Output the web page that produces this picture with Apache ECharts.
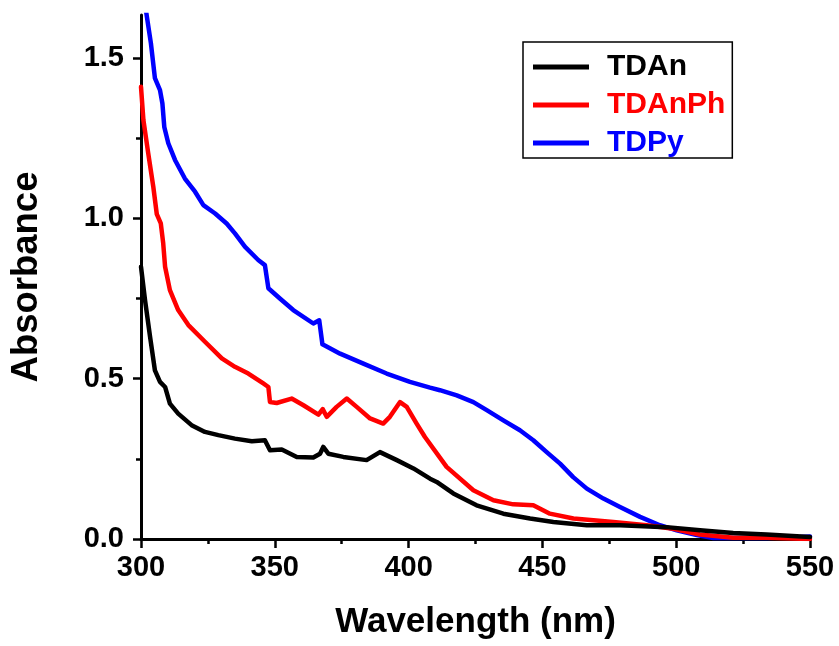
<!DOCTYPE html>
<html>
<head>
<meta charset="utf-8">
<script src="https://cdn.jsdelivr.net/npm/echarts@6/dist/echarts.min.js"></script>
<style>
  html, body { margin: 0; padding: 0; background: #fff; }
  #chart { width: 839px; height: 646px; }
</style>
</head>
<body>
<div id="chart"></div>
<script>
// ---- data ----
const seriesNames = ['TDAn', 'TDAnPh', 'TDPy'];

const tdanWl = [300.0, 301.5, 303.4, 305.2, 307.1, 309.0, 310.8, 313.9, 318.9, 323.9, 328.9, 335.1, 341.4, 346.3, 348.2, 352.6, 358.2, 364.4, 366.9, 368.1, 370.0, 375.6, 384.3, 389.3, 395.6, 401.8, 408.0, 410.5, 416.7, 425.4, 435.4, 445.4, 454.1, 466.6, 479.0, 496.4, 508.9, 521.3, 533.8, 550.0];
const tdanAbs = [0.849, 0.745, 0.630, 0.526, 0.490, 0.474, 0.422, 0.391, 0.355, 0.334, 0.324, 0.313, 0.305, 0.308, 0.277, 0.279, 0.256, 0.254, 0.266, 0.287, 0.266, 0.256, 0.246, 0.271, 0.246, 0.220, 0.188, 0.178, 0.142, 0.105, 0.079, 0.064, 0.053, 0.043, 0.043, 0.037, 0.027, 0.019, 0.014, 0.006];

const tdanphWl = [300.0, 300.9, 302.7, 304.6, 305.9, 307.4, 308.3, 309.0, 310.8, 313.9, 317.7, 323.9, 330.2, 335.1, 340.1, 345.7, 347.6, 348.2, 350.7, 356.3, 360.7, 366.3, 367.9, 369.4, 373.1, 376.9, 380.6, 385.6, 390.5, 393.0, 396.8, 399.3, 403.0, 406.1, 414.2, 424.2, 431.7, 439.1, 446.6, 452.8, 461.6, 476.5, 489.0, 498.9, 508.9, 521.3, 533.8, 550.0];
const tdanphAbs = [1.410, 1.306, 1.203, 1.098, 1.013, 0.984, 0.922, 0.849, 0.776, 0.714, 0.667, 0.615, 0.563, 0.537, 0.516, 0.485, 0.474, 0.427, 0.424, 0.438, 0.417, 0.388, 0.405, 0.381, 0.412, 0.438, 0.412, 0.376, 0.360, 0.381, 0.427, 0.412, 0.360, 0.318, 0.225, 0.152, 0.121, 0.108, 0.105, 0.079, 0.064, 0.053, 0.043, 0.032, 0.014, 0.004, 0.004, 0.000];

const tdpyWl = [300.0, 302.1, 303.7, 305.2, 307.1, 308.0, 308.7, 310.2, 312.7, 316.4, 320.2, 323.3, 327.7, 332.0, 335.1, 338.9, 343.8, 346.3, 347.6, 351.9, 356.9, 364.4, 366.6, 367.8, 374.4, 383.1, 391.8, 400.5, 408.0, 411.7, 418.0, 424.2, 429.2, 435.4, 441.6, 446.6, 451.6, 456.6, 461.5, 466.6, 472.8, 479.0, 486.5, 493.9, 500.2, 507.7, 513.9, 521.3, 533.8, 546.3, 550.0];
const tdpyAbs = [1.760, 1.634, 1.546, 1.437, 1.400, 1.358, 1.285, 1.234, 1.182, 1.124, 1.083, 1.041, 1.015, 0.984, 0.953, 0.911, 0.870, 0.854, 0.782, 0.750, 0.714, 0.672, 0.682, 0.607, 0.578, 0.547, 0.516, 0.490, 0.472, 0.464, 0.448, 0.427, 0.402, 0.370, 0.339, 0.308, 0.271, 0.235, 0.193, 0.157, 0.126, 0.100, 0.069, 0.043, 0.027, 0.012, 0.003, 0.003, 0.003, 0.006, 0.008];

const xTicks = [300, 350, 400, 450, 500, 550];
const yTicks = [0.0, 0.5, 1.0, 1.5];
const yMinorTicks = [0.25, 0.75, 1.25];
const xMin = 300, xMax = 550, yMin = 0, yMax = 1.634;

// ---- chart ----
const FONT = '"Liberation Sans", Arial, sans-serif';
const colors = ['#000000', '#ff0000', '#0000ff'];
const zip = (a, b) => a.map((v, i) => [v, b[i]]);
const seriesData = [zip(tdanWl, tdanAbs), zip(tdanphWl, tdanphAbs), zip(tdpyWl, tdpyAbs)];

const chart = echarts.init(document.getElementById('chart'), null, { renderer: 'canvas' });

const option = {
  animation: false,
  backgroundColor: '#ffffff',
  grid: { left: 141, right: 29, top: 15, bottom: 107, containLabel: false },
  legend: {
    orient: 'vertical',
    left: 523,
    top: 42,
    padding: [10, 7, 0, 10],
    itemGap: 8,
    itemWidth: 56,
    itemHeight: 5,
    icon: 'rect',
    borderColor: '#000',
    borderWidth: 1.5,
    borderRadius: 0,
    data: seriesNames.map((n, i) => ({
      name: n,
      textStyle: { color: colors[i] }
    })),
    textStyle: {
      fontFamily: FONT, fontWeight: 'bold', fontSize: 30, lineHeight: 30,
      padding: [0, 0, 0, 13]
    }
  },
  xAxis: {
    type: 'value',
    min: xMin, max: xMax, interval: 50,
    name: 'Wavelength (nm)',
    nameLocation: 'middle',
    nameGap: 66,
    nameTextStyle: { fontFamily: FONT, fontWeight: 'bold', fontSize: 35, color: '#000' },
    axisLine: { show: true, onZero: false, lineStyle: { color: '#000', width: 3 } },
    axisTick: { show: true, inside: false, length: 9, lineStyle: { color: '#000', width: 2.5 },
                customValues: xTicks },
    minorTick: { show: true, splitNumber: 2, length: 5, lineStyle: { color: '#000', width: 2.5 } },
    axisLabel: { fontFamily: FONT, fontWeight: 'bold', fontSize: 29, color: '#000', margin: 14,
                 customValues: xTicks },
    splitLine: { show: false },
    minorSplitLine: { show: false }
  },
  yAxis: [
    {
      type: 'value',
      min: yMin, max: yMax,
      position: 'left',
      name: 'Absorbance',
      nameLocation: 'middle',
      nameGap: 96,
      nameTextStyle: { fontFamily: FONT, fontWeight: 'bold', fontSize: 36.5, color: '#000' },
      axisLine: { show: true, onZero: false, lineStyle: { color: '#000', width: 3 } },
      axisTick: { show: true, inside: false, length: 8, lineStyle: { color: '#000', width: 2.5 },
                  customValues: yTicks },
      axisLabel: { fontFamily: FONT, fontWeight: 'bold', fontSize: 29, color: '#000', margin: 17,
                   customValues: yTicks, formatter: v => v.toFixed(1) },
      splitLine: { show: false }
    },
    {
      type: 'value',
      min: yMin, max: yMax,
      position: 'left',
      axisLine: { show: false },
      axisTick: { show: true, inside: false, length: 5, lineStyle: { color: '#000', width: 2.5 },
                  customValues: yMinorTicks },
      axisLabel: { show: false },
      splitLine: { show: false }
    }
  ],
  series: seriesNames.map((n, i) => ({
    name: n,
    type: 'line',
    data: seriesData[i],
    showSymbol: false,
    symbol: 'none',
    smooth: false,
    clip: true,
    z: 3 - i + 2,
    lineStyle: { color: colors[i], width: 4.5, join: 'round', cap: 'round' },
    itemStyle: { color: colors[i] }
  }))
};

chart.setOption(option);
</script>
</body>
</html>
